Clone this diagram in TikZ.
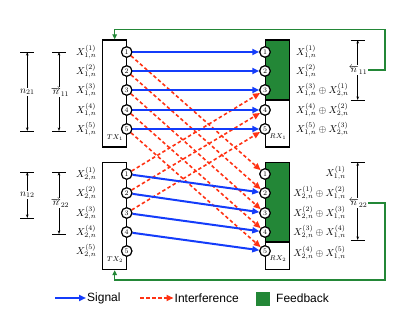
\documentclass[tikz,border=0pt]{standalone}
\usepackage{fontspec}
\newfontfamily\legendfont{Liberation Sans}
\usetikzlibrary{arrows.meta}
\definecolor{sigblue}{RGB}{20,60,250}
\definecolor{intred}{RGB}{255,50,20}
\definecolor{fbgreen}{RGB}{35,135,55}
\begin{document}
\begin{tikzpicture}[x=1pt,y=-1pt,
  box/.style={draw, line width=1.4pt, minimum width=24pt, minimum height=107pt, inner sep=0pt},
  port/.style={circle, draw, fill=white, line width=1.1pt, minimum size=10.4pt, inner sep=0pt, font=\scriptsize},
  sig/.style={sigblue, line width=2pt, -{Triangle[length=7pt,width=6pt]}},
  intf/.style={intred, line width=1.6pt, dash pattern=on 3.5pt off 2.5pt, -{Triangle[length=7pt,width=6pt]}},
  fb/.style={fbgreen, line width=1.3pt},
  meas/.style={line width=0.6pt, {Stealth[length=3.5pt,width=2.6pt]}-{Stealth[length=3.5pt,width=2.6pt]}},
  tick/.style={line width=0.7pt},
  mlab/.style={fill=white, inner sep=1pt},
  xl/.style={inner sep=1pt, anchor=east},
  rl/.style={inner sep=1pt, anchor=west},
  rr/.style={inner sep=1pt, anchor=east},
  boxlab/.style={font=\scriptsize, inner sep=0pt},
  legtext/.style={font=\fontsize{12}{14}\legendfont, anchor=west, inner sep=1pt}
]
\useasboundingbox (0,0) rectangle (415,312);

% boxes
\node[box] (tx1) at (114.7,93.5) {};
\node[box] (tx2) at (114.7,216) {};
\fill[fbgreen] (265,40) rectangle (289.5,100);
\fill[fbgreen] (265,162.5) rectangle (289.5,242);
\node[box] (rx1) at (277.2,93.5) {};
\node[box] (rx2) at (277.2,216) {};
\draw[line width=1.3pt] (rx1.west |- 0,100) -- (rx1.east |- 0,100);
\draw[line width=1.3pt] (rx2.west |- 0,242) -- (rx2.east |- 0,242);
\node[boxlab] (tx1l) at (115,138) {$TX_1$};
\node[boxlab] (tx2l) at (115,260) {$TX_2$};
\node[boxlab] (rx1l) at (278,137) {$RX_1$};
\node[boxlab] (rx2l) at (278,259) {$RX_2$};

% ports
\foreach \i/\y in {1/52,2/71,3/90,4/110,5/129}{
  \node[port] (t1\i) at (126.7,\y) {\i};
  \node[port] (r1\i) at (265,\y) {\i};
  \node[xl] (xt1\i) at (97.5,\y) {$X_{1,n}^{(\i)}$};
}
\foreach \i/\y in {1/174,2/193,3/213,4/232,5/251}{
  \node[port] (t2\i) at (126.7,\y) {\i};
  \node[port] (r2\i) at (265,\y) {\i};
  \node[xl] (xt2\i) at (97.5,\y) {$X_{2,n}^{(\i)}$};
}

% receiver labels
\node[rl] (a1) at (295,52) {$X_{1,n}^{(1)}$};
\node[rl] (a2) at (295,71) {$X_{1,n}^{(2)}$};
\node[rl] (a3) at (295,90) {$X_{1,n}^{(3)}\oplus X_{2,n}^{(1)}$};
\node[rl] (a4) at (295,110) {$X_{1,n}^{(4)}\oplus X_{2,n}^{(2)}$};
\node[rl] (a5) at (295,129) {$X_{1,n}^{(5)}\oplus X_{2,n}^{(3)}$};
\node[rr] (b1) at (347,173) {$X_{1,n}^{(1)}$};
\node[rr] (b2) at (347,193) {$X_{2,n}^{(1)}\oplus X_{1,n}^{(2)}$};
\node[rr] (b3) at (347,213) {$X_{2,n}^{(2)}\oplus X_{1,n}^{(3)}$};
\node[rr] (b4) at (347,232) {$X_{2,n}^{(3)}\oplus X_{1,n}^{(4)}$};
\node[rr] (b5) at (347,253) {$X_{2,n}^{(4)}\oplus X_{1,n}^{(5)}$};

% interference
\foreach \i in {1,...,5}{ \draw[intf] (t1\i) -- (r2\i); }
\draw[intf] (t21) -- (r13);
\draw[intf] (t22) -- (r14);
\draw[intf] (t23) -- (r15);
% signal
\foreach \i in {1,...,5}{ \draw[sig] (t1\i) -- (r1\i); }
\draw[sig] (t21) -- (r22);
\draw[sig] (t22) -- (r23);
\draw[sig] (t23) -- (r24);
\draw[sig] (t24) -- (r25);
% redraw ports on top
\foreach \i/\y in {1/52,2/71,3/90,4/110,5/129}{
  \node[port] at (126.7,\y) {\i};
  \node[port] at (265,\y) {\i};
}
\foreach \i/\y in {1/174,2/193,3/213,4/232,5/251}{
  \node[port] at (126.7,\y) {\i};
  \node[port] at (265,\y) {\i};
}

% left measurement brackets
\draw[tick] (20,52) -- (34,52) (20,131) -- (34,131);
\draw[meas] (27.3,52) -- (27.3,131);
\node[mlab] (m21) at (27.3,92) {$n_{21}$};
\draw[tick] (52,52) -- (66,52) (52,131) -- (66,131);
\draw[meas] (59,52) -- (59,131);
\node[mlab] (m11) at (60,92) {$\overrightarrow{n}_{11}$};
\draw[tick] (20,172) -- (34,172) (20,218) -- (34,218);
\draw[meas] (27.3,172) -- (27.3,218);
\node[mlab] (m12) at (27.3,195) {$n_{12}$};
\draw[tick] (52,172) -- (66,172) (52,234) -- (66,234);
\draw[meas] (59,172) -- (59,234);
\node[mlab] (m22) at (60,203) {$\overrightarrow{n}_{22}$};

% right measurement brackets
\draw[tick] (350.7,40) -- (364.5,40) (350.7,100) -- (364.5,100);
\draw[meas] (357.7,40) -- (357.7,100);
\node[mlab] (lab11) at (358,70) {$\overleftarrow{n}_{11}$};
\draw[tick] (350.7,162.3) -- (364.5,162.3) (350.7,240) -- (364.5,240);
\draw[meas] (357.7,162.3) -- (357.7,240);
\node[mlab] (lab22) at (358,203) {$\overleftarrow{n}_{22}$};

% feedback
\coordinate (fbtop) at (385,29.5);
\coordinate (fbbot) at (385,280);
\draw[fb, -{Triangle[length=5pt,width=4.5pt]}] (lab11.east) -| (fbtop) -| (tx1.north);
\draw[fb, -{Triangle[length=5pt,width=4.5pt]}] (lab22.east) -| (fbbot) -| (tx2.south);

% legend
\coordinate (ls1) at (55,298);
\node[legtext] (lsig) at (86,298) {Signal};
\draw[sigblue, line width=2pt, -{Triangle[length=7pt,width=6pt]}] (ls1) -- (lsig.west);
\coordinate (li1) at (140,298);
\node[legtext] (lint) at (173.5,298) {Interference};
\draw[intred, line width=1.6pt, dash pattern=on 3.5pt off 2.5pt, -{Triangle[length=7pt,width=6pt]}] (li1) -- (lint.west);
\node[fill=fbgreen, minimum size=14.3pt, inner sep=0pt] (lfb) at (263,298.8) {};
\node[legtext] (lfbt) at (275,298) {Feedback};
\end{tikzpicture}
\end{document}
